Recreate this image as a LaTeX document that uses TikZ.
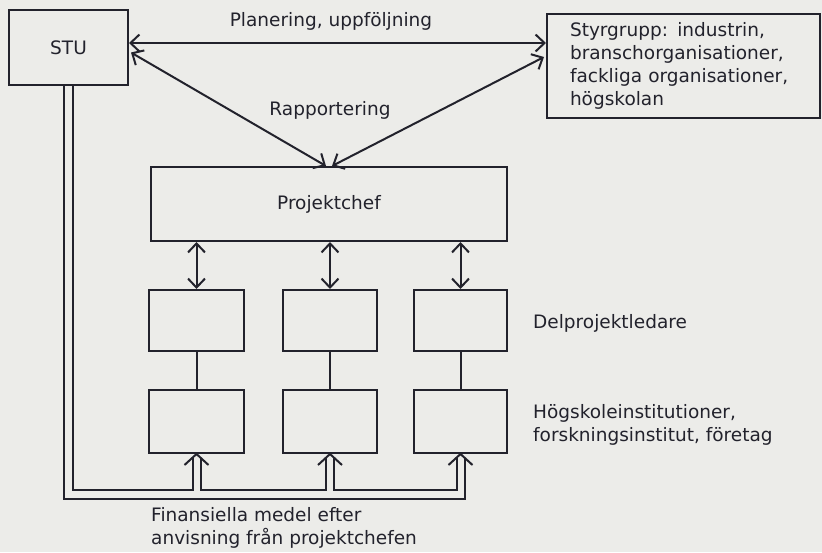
\documentclass[tikz,border=0pt]{standalone}
\usepackage{fontspec}
\setmainfont{DejaVu Sans}
\usepackage{tikz}
\usetikzlibrary{calc,arrows.meta}
\definecolor{paper}{RGB}{236,236,233}
\definecolor{ink}{RGB}{34,34,44}
\tikzset{%
    box/.style={draw=ink, line width=2pt, rectangle, inner sep=0pt},
    label/.style={text=ink, font=\fontsize{18.5}{23}\selectfont, inner sep=0pt},
    link/.style={draw=ink, line width=2pt},
    tip/.style={{Straight Barb[length=9pt,width=17pt,line width=2pt]}-{Straight Barb[length=9pt,width=17pt,line width=2pt]}}
}

\begin{document}
\begin{tikzpicture}[x=1pt,y=-1pt]
    \fill[paper] (0,0) rectangle (822,552);
    \useasboundingbox (0,0) rectangle (822,552);
%-----------------------------------------------
    \node[box, minimum width=119pt, minimum height=75pt] (stu) at (68.5,47.5) {};
    \node[label] at (stu.center) {STU};
    \node[box, label, minimum width=273pt, minimum height=104pt, inner xsep=23pt, text width=227pt, align=left] (styr) at (683.5,66)
        {Styrgrupp: industrin,\\ branschorganisationer,\\ fackliga organisationer,\\ högskolan};
    \node[box, minimum width=356pt, minimum height=74pt] (chef) at (329,204) {};
    \node[label] at (chef.center) {Projektchef};
%-----------------------------------------------
    \node[box, minimum width=95pt, minimum height=61pt] (a1) at (196.5,320.5) {};
    \node[box, minimum width=94pt, minimum height=61pt] (a2) at (330,320.5) {};
    \node[box, minimum width=93pt, minimum height=61pt] (a3) at (460.5,320.5) {};
    \node[box, minimum width=95pt, minimum height=63pt] (b1) at (196.5,421.5) {};
    \node[box, minimum width=94pt, minimum height=63pt] (b2) at (330,421.5) {};
    \node[box, minimum width=93pt, minimum height=63pt] (b3) at (460.5,421.5) {};
%-----------------------------------------------
    \node[label] (lplan) at (331,21) {Planering, uppföljning};
    \node[label] (lrapp) at (330,110) {Rapportering};
    \node[label, anchor=west] (ldel) at (533,323) {Delprojektledare};
    \node[label, anchor=west, align=left] (lhog) at (533,425) {Högskoleinstitutioner,\\ forskningsinstitut, företag};
    \node[label, anchor=west, align=left] (lfin) at (151,528) {Finansiella medel efter\\ anvisning från projektchefen};
%-----------------------------------------------
    \coordinate (plan) at ($(stu.east)+(0,-4.5)$);
    \draw[link, tip] (plan) -- (plan -| styr.west);
    \draw[link, tip] ($(stu.east)+(2,5)$) -- ($(chef.north)+(-3,0)$);
    \draw[link, tip] ($(styr.west)+(-2,-9)$) -- ($(chef.north)+(3,0)$);
    \foreach \k in {1,2,3} {
        \draw[link, tip] (a\k.north) -- (a\k.north |- chef.south);
        \draw[link] (a\k.south) -- (b\k.north);
    }
%-----------------------------------------------
    \coordinate (oL) at ($(stu.south)+(-4.5,0)$);
    \coordinate (iL) at ($(stu.south)+(4.5,0)$);
    \coordinate (iy) at (0,490);
    \coordinate (oy) at (0,499);
    \foreach \k in {1,2,3} {
        \coordinate (s\k l) at ($(b\k.south)+(-4,4)$);
        \coordinate (s\k r) at ($(b\k.south)+(4,4)$);
        \draw[link, line join=miter] ($(b\k.south)+(-12,11)$) -- (b\k.south) -- ($(b\k.south)+(12,11)$);
    }
    \draw[link] (oL) -- (oL |- oy) -- (oy -| s3r) -- (s3r);
    \draw[link] (iL) -- (iL |- iy) -- (iy -| s1l) -- (s1l);
    \draw[link] (s1r) -- (s1r |- iy) -- (iy -| s2l) -- (s2l);
    \draw[link] (s2r) -- (s2r |- iy) -- (iy -| s3l) -- (s3l);
\end{tikzpicture}
\end{document}
